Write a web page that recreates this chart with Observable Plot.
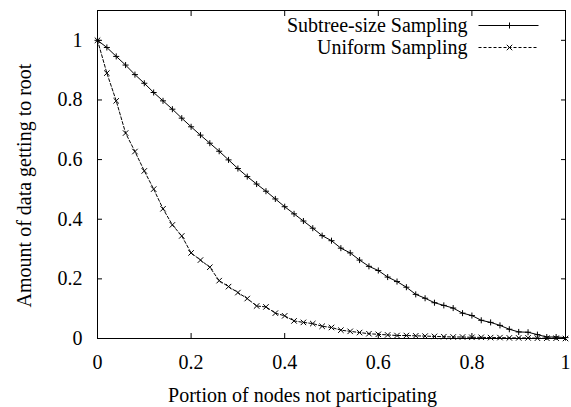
<!DOCTYPE html>
<html>
<head>
<meta charset="utf-8">
<script src="https://cdn.jsdelivr.net/npm/d3@7"></script>
<script src="https://cdn.jsdelivr.net/npm/@observablehq/plot@0.6"></script>
<style>
  html, body { margin: 0; padding: 0; background: #fff; }
  svg { display: block; }
</style>
</head>
<body>
<div id="chart"></div>
<script>
// Data (x = portion of nodes not participating)
const xValues = [0, 0.02, 0.04, 0.06, 0.08, 0.10, 0.12, 0.14, 0.16, 0.18, 0.20, 0.22, 0.24, 0.26, 0.28, 0.30, 0.32, 0.34, 0.36, 0.38, 0.40, 0.42, 0.44, 0.46, 0.48, 0.50, 0.52, 0.54, 0.56, 0.58, 0.60, 0.62, 0.64, 0.66, 0.68, 0.70, 0.72, 0.74, 0.76, 0.78, 0.80, 0.82, 0.84, 0.86, 0.88, 0.90, 0.92, 0.94, 0.96, 0.98, 1.00];
const subtreeValues = [1.0, 0.976, 0.946, 0.917, 0.885, 0.856, 0.825, 0.797, 0.769, 0.739, 0.710, 0.682, 0.655, 0.628, 0.599, 0.570, 0.543, 0.518, 0.494, 0.468, 0.442, 0.418, 0.394, 0.370, 0.345, 0.328, 0.303, 0.287, 0.263, 0.242, 0.228, 0.206, 0.191, 0.172, 0.148, 0.135, 0.120, 0.111, 0.102, 0.085, 0.077, 0.061, 0.054, 0.044, 0.031, 0.022, 0.021, 0.013, 0.005, 0.005, 0.003];
const uniformValues = [1.0, 0.890, 0.797, 0.689, 0.627, 0.562, 0.501, 0.435, 0.381, 0.344, 0.287, 0.263, 0.239, 0.194, 0.174, 0.154, 0.134, 0.109, 0.106, 0.085, 0.076, 0.059, 0.054, 0.050, 0.041, 0.037, 0.028, 0.024, 0.020, 0.016, 0.014, 0.012, 0.010, 0.010, 0.009, 0.008, 0.007, 0.006, 0.005, 0.005, 0.004, 0.004, 0.003, 0.003, 0.002, 0.002, 0.002, 0.001, 0.001, 0.001, 0];
const seriesNames = ["Subtree-size Sampling", "Uniform Sampling"];
const xTicks = [0, 0.2, 0.4, 0.6, 0.8, 1];
const yTicks = [0, 0.2, 0.4, 0.6, 0.8, 1];
const xLabel = "Portion of nodes not participating";
const yLabel = "Amount of data getting to root";

const subtree = xValues.map((x, i) => ({x, y: subtreeValues[i]}));
const uniform = xValues.map((x, i) => ({x, y: uniformValues[i]}));

const fmt = d3.format("~g");
const FONT = "Liberation Serif";
const FS = 20;
const lineSym = {draw(ctx) { ctx.moveTo(-30, 0); ctx.lineTo(30, 0); }};

const chart = Plot.plot({
  width: 571,
  height: 407,
  marginLeft: 97,
  marginRight: 6,
  marginTop: 10,
  marginBottom: 69,
  style: {fontFamily: FONT, fontSize: FS + "px"},
  x: {domain: [0, 1]},
  y: {domain: [0, 1.1]},
  marks: [
    // inward ticks on all four sides, labels on bottom and left
    Plot.axisX(xTicks, {anchor: "bottom", tickSize: 5, dy: -5, tickPadding: 16, tickFormat: fmt, label: null, fontSize: FS, fontFamily: FONT}),
    Plot.axisX(xTicks, {anchor: "top", tickSize: 5, dy: 5, tickFormat: () => "", label: null}),
    Plot.axisY(yTicks, {anchor: "left", tickSize: 5, dx: 5, tickPadding: 15, tickFormat: fmt, label: null, fontSize: FS, fontFamily: FONT}),
    Plot.axisY(yTicks, {anchor: "right", tickSize: 5, dx: -5, tickFormat: () => "", label: null}),
    Plot.frame({stroke: "#000", strokeWidth: 1}),
    // series
    Plot.line(subtree, {x: "x", y: "y", stroke: "#000", strokeWidth: 1}),
    Plot.dot(subtree, {x: "x", y: "y", symbol: "plus", r: 2.1, stroke: "#000", strokeWidth: 1}),
    Plot.line(uniform, {x: "x", y: "y", stroke: "#000", strokeWidth: 1, strokeDasharray: "3,2"}),
    Plot.dot(uniform, {x: "x", y: "y", symbol: "times", r: 2.6, stroke: "#000", strokeWidth: 1}),
    // legend
    Plot.text([seriesNames[0]], {frameAnchor: "top-right", dx: -98, dy: 15, textAnchor: "end", lineAnchor: "middle", fontSize: FS, fontFamily: FONT}),
    Plot.text([seriesNames[1]], {frameAnchor: "top-right", dx: -98, dy: 37, textAnchor: "end", lineAnchor: "middle", fontSize: FS, fontFamily: FONT}),
    Plot.dot([0], {frameAnchor: "top-right", dx: -57, dy: 15, symbol: lineSym, stroke: "#000", strokeWidth: 1}),
    Plot.dot([0], {frameAnchor: "top-right", dx: -56, dy: 15, symbol: "plus", r: 2.1, stroke: "#000", strokeWidth: 1}),
    Plot.dot([0], {frameAnchor: "top-right", dx: -57, dy: 37, symbol: lineSym, stroke: "#000", strokeWidth: 1, strokeDasharray: "3,2"}),
    Plot.dot([0], {frameAnchor: "top-right", dx: -56, dy: 37, symbol: "times", r: 2.6, stroke: "#000", strokeWidth: 1}),
    // axis titles
    Plot.text([xLabel], {frameAnchor: "bottom", dx: -29, dy: 63, textAnchor: "middle", lineAnchor: "bottom", fontSize: FS, fontFamily: FONT}),
    Plot.text([yLabel], {frameAnchor: "left", dx: -73, dy: 11, rotate: -90, textAnchor: "middle", lineAnchor: "middle", fontSize: FS, fontFamily: FONT})
  ]
});
document.getElementById("chart").appendChild(chart);
</script>
</body>
</html>
